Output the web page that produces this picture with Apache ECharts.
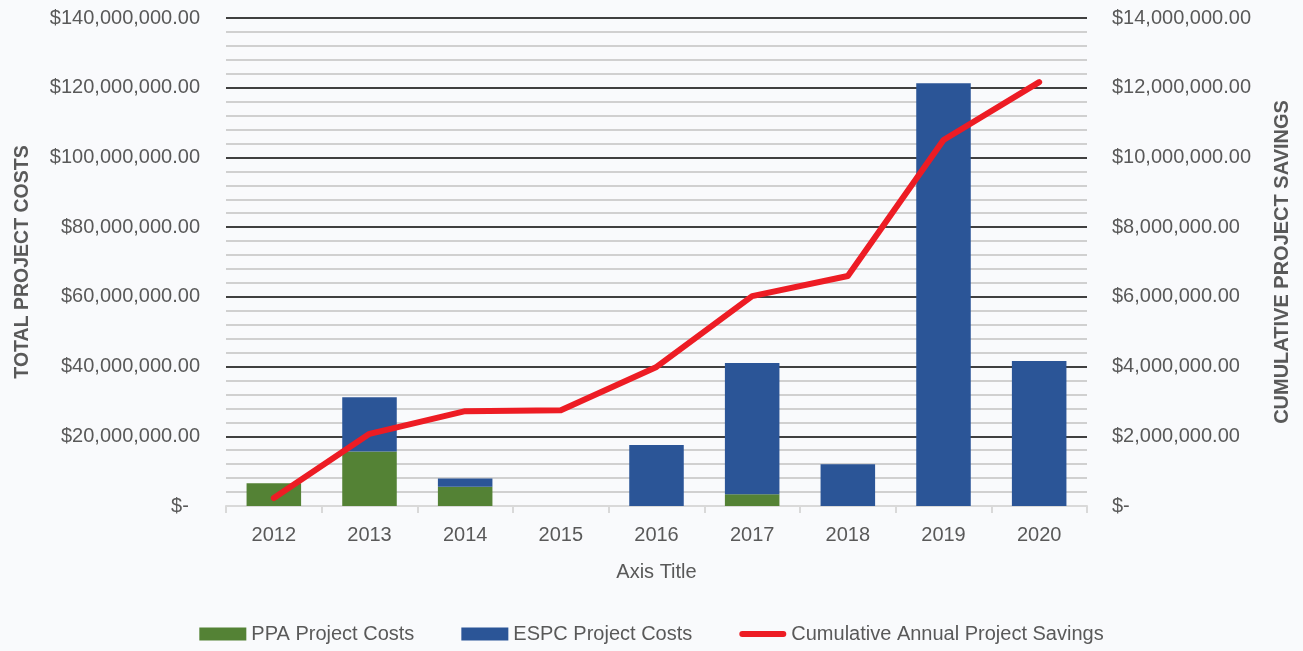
<!DOCTYPE html>
<html>
<head>
<meta charset="utf-8">
<script src="https://cdn.jsdelivr.net/npm/echarts@6/dist/echarts.min.js"></script>
<style>
  html, body { margin: 0; padding: 0; background: #f9fafc; }
  #main { width: 1303px; height: 651px; }
</style>
</head>
<body>
<div id="main"></div>
<script>
var years = ['2012', '2013', '2014', '2015', '2016', '2017', '2018', '2019', '2020'];
var ppaCosts = [6500000, 15600000, 5500000, 0, 0, 3400000, 0, 0, 0];
var espcCosts = [0, 15600000, 2400000, 0, 17500000, 37600000, 12000000, 121300000, 41600000];
var cumSavings = [230000, 2070000, 2720000, 2750000, 3990000, 6020000, 6600000, 10500000, 12160000];

function money(v) {
  if (v === 0) return '$-  ';
  return '$' + v.toLocaleString('en-US', { minimumFractionDigits: 2, maximumFractionDigits: 2 });
}

var font = 'Liberation Sans';
var grey = '#595959';

var chartDom = document.getElementById('main');
var myChart = echarts.init(chartDom);
var option;

option = {
  backgroundColor: '#f9fafc',
  textStyle: { fontFamily: font },
  animation: false,
  grid: {
    left: 226,
    right: 216,
    top: 18,
    bottom: 145,
    outerBoundsMode: 'none',
    containLabel: false
  },
  legend: {
    bottom: 2,
    left: 'center',
    itemGap: 47,
    itemWidth: 47,
    itemHeight: 13,
    textStyle: { fontSize: 20, color: grey, fontFamily: font },
    data: [
      { name: 'PPA Project Costs', icon: 'rect' },
      { name: 'ESPC Project Costs', icon: 'rect' },
      {
        name: 'Cumulative Annual Project Savings',
        icon: 'path://M3,0 L44,0 A3,3 0 0 1 44,6 L3,6 A3,3 0 0 1 3,0 Z',
        itemStyle: { color: '#ed1c24' }
      }
    ]
  },
  xAxis: {
    type: 'category',
    data: years,
    name: 'Axis Title',
    nameLocation: 'middle',
    nameGap: 56,
    nameTextStyle: { fontSize: 20, color: grey },
    axisLine: { lineStyle: { color: '#d9d9d9', width: 2 } },
    axisTick: { show: true, length: 7, lineStyle: { color: '#d9d9d9', width: 2 } },
    axisLabel: { fontSize: 20, color: grey, margin: 19 }
  },
  yAxis: [
    {
      type: 'value',
      min: 0,
      max: 140000000,
      interval: 20000000,
      name: 'TOTAL PROJECT COSTS',
      nameLocation: 'middle',
      nameRotate: 90,
      nameGap: 193,
      nameTextStyle: { fontSize: 19.5, fontWeight: 'bold', color: grey },
      axisLabel: { fontSize: 20, color: grey, margin: 26, formatter: money },
      axisLine: { show: false },
      axisTick: { show: false },
      splitLine: { lineStyle: { color: '#404040', width: 2 } },
      minorTick: { show: false, splitNumber: 5 },
      minorSplitLine: { show: true, lineStyle: { color: '#d0d0d0', width: 2 } }
    },
    {
      type: 'value',
      min: 0,
      max: 14000000,
      interval: 2000000,
      name: 'CUMULATIVE PROJECT SAVINGS',
      nameLocation: 'middle',
      nameRotate: 90,
      nameGap: 185,
      nameTextStyle: { fontSize: 20, fontWeight: 'bold', color: grey },
      axisLabel: { fontSize: 20, color: grey, margin: 25, formatter: money },
      axisLine: { show: false },
      axisTick: { show: false },
      splitLine: { show: false }
    }
  ],
  series: [
    {
      name: 'PPA Project Costs',
      type: 'bar',
      stack: 'total',
      barWidth: '57%',
      itemStyle: { color: '#548235' },
      data: ppaCosts
    },
    {
      name: 'ESPC Project Costs',
      type: 'bar',
      stack: 'total',
      barWidth: '57%',
      itemStyle: { color: '#2b5597' },
      data: espcCosts
    },
    {
      name: 'Cumulative Annual Project Savings',
      type: 'line',
      yAxisIndex: 1,
      symbol: 'none',
      lineStyle: { color: '#ed1c24', width: 6, cap: 'round', join: 'round' },
      itemStyle: { color: '#ed1c24' },
      data: cumSavings
    }
  ]
};

option && myChart.setOption(option);
</script>
</body>
</html>
